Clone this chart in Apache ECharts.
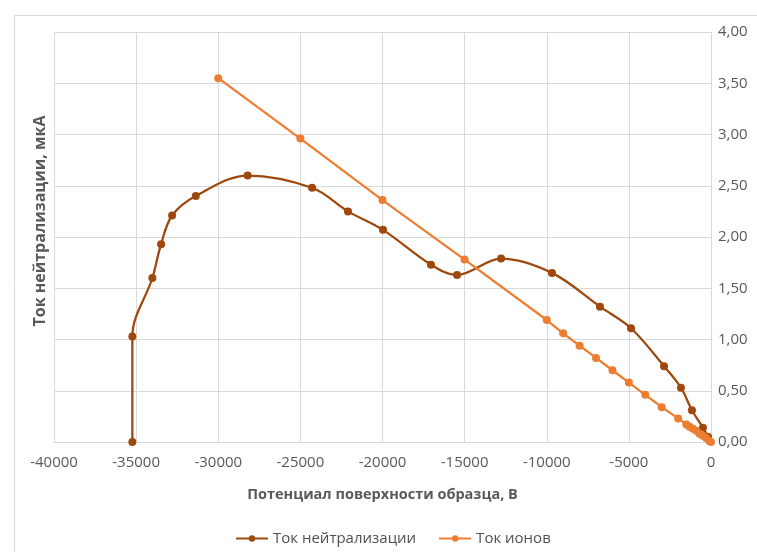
<!DOCTYPE html>
<html>
<head>
<meta charset="utf-8">
<script src="https://cdn.jsdelivr.net/npm/echarts@6/dist/echarts.min.js"></script>
<style>html,body{margin:0;padding:0;background:#fff;}#c{width:757px;height:552px;}</style>
</head>
<body>
<div id="c"></div>
<script>
// Ток нейтрализации: potential (V) and current (µA)
const neutrX = [-35230, -35230, -34010, -33480, -32810, -31370, -28210, -24290, -22100, -19970, -17050, -15460, -12780, -9680, -6760, -4870, -2860, -1830, -1160, -490, -180];
const neutrY = [0.00, 1.03, 1.60, 1.93, 2.21, 2.40, 2.60, 2.48, 2.25, 2.07, 1.73, 1.63, 1.79, 1.65, 1.32, 1.11, 0.74, 0.53, 0.31, 0.14, 0.05];
// Ток ионов
const ionX = [-30000, -25000, -20000, -15000, -10000, -9000, -8000, -7000, -6000, -5000, -4000, -3000, -2000, -1500, -1300, -1100, -900, -700, -500, -300, -100, 0];
const ionY = [3.55, 2.96, 2.36, 1.78, 1.19, 1.06, 0.94, 0.82, 0.70, 0.58, 0.46, 0.34, 0.23, 0.17, 0.15, 0.13, 0.11, 0.08, 0.06, 0.04, 0.01, 0.00];

const xTicks = [-40000, -35000, -30000, -25000, -20000, -15000, -10000, -5000, 0];
const yTicks = [0, 0.5, 1, 1.5, 2, 2.5, 3, 3.5, 4];

const seriesNames = ['Ток нейтрализации', 'Ток ионов'];
const xName = 'Потенциал поверхности образца, В';
const yName = 'Ток нейтрализации, мкА';

const FONT = '"Open Sans", "Noto Sans", sans-serif';
const TXT = '#595959';
const GRID = '#d9d9d9';

const chart = echarts.init(document.getElementById('c'), null, {renderer: 'canvas'});
chart.setOption({
  animation: false,
  backgroundColor: '#fff',
  textStyle: {fontFamily: FONT},
  graphic: [{
    type: 'rect', left: 12, top: 13, shape: {width: 800, height: 600},
    style: {fill: 'none', stroke: '#d9d9d9', lineWidth: 1}, silent: true
  }, {
    type: 'text', x: 40, y: 221, rotation: Math.PI / 2,
    style: {text: yName, fill: TXT, font: 'bold 16px "Open Sans", sans-serif',
      align: 'center', verticalAlign: 'middle'}, silent: true
  }],
  grid: {left: 54, right: 46, top: 32, bottom: 110, containLabel: false},
  legend: {
    data: seriesNames,
    left: 230, top: 526,
    itemWidth: 32, itemHeight: 8, itemGap: 22,
    textStyle: {color: '#505050', fontSize: 15, fontFamily: FONT}
  },
  xAxis: {
    type: 'value',
    min: xTicks[0], max: xTicks[xTicks.length - 1], interval: 5000,
    name: xName, nameLocation: 'middle', nameGap: 45,
    nameTextStyle: {color: TXT, fontSize: 14.5, fontWeight: 'bold', fontFamily: FONT},
    axisLine: {show: true, onZero: false, lineStyle: {color: GRID}},
    axisTick: {show: false},
    splitLine: {show: true, lineStyle: {color: GRID}},
    axisLabel: {color: TXT, fontSize: 15, margin: 13, fontFamily: FONT,
      formatter: v => String(v)}
  },
  yAxis: {
    type: 'value', position: 'right',
    min: yTicks[0], max: yTicks[yTicks.length - 1], interval: 0.5,
    axisLine: {show: false}, axisTick: {show: false},
    splitLine: {show: true, lineStyle: {color: GRID}},
    axisLabel: {color: TXT, fontSize: 15, margin: 7, fontFamily: FONT,
      formatter: v => v.toFixed(2).replace('.', ',')}
  },
  series: [{
    name: seriesNames[0], type: 'line',
    data: neutrX.map((x, i) => [x, neutrY[i]]),
    smooth: 0.35, symbol: 'circle', symbolSize: 8,
    itemStyle: {color: '#9E480E'},
    lineStyle: {color: '#9E480E', width: 2.25}
  }, {
    name: seriesNames[1], type: 'line',
    data: ionX.map((x, i) => [x, ionY[i]]),
    smooth: false, symbol: 'circle', symbolSize: 8,
    itemStyle: {color: '#ED7D31'},
    lineStyle: {color: '#ED7D31', width: 2.25}
  }]
});
</script>
</body>
</html>
